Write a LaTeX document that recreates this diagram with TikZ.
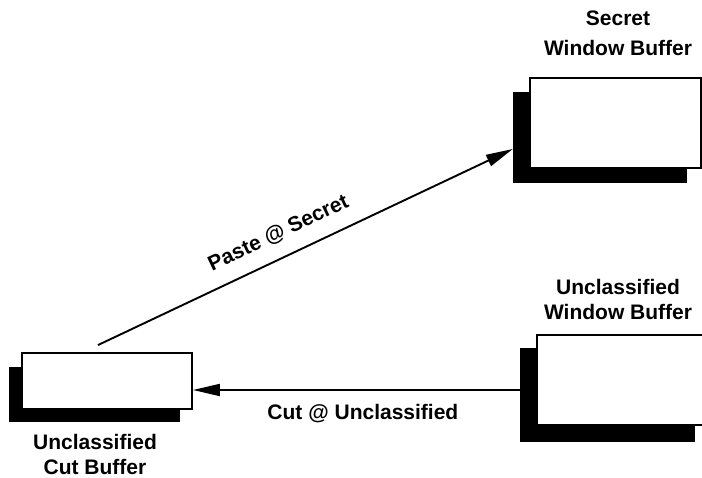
\documentclass[tikz,border=0pt]{standalone}
\usepackage{fontspec}
\setmainfont{Liberation Sans}
\usepackage{tikz}
\usetikzlibrary{calc,positioning,arrows.meta}

\begin{document}
\begin{tikzpicture}[x=1pt,y=-1pt,
  bufbox/.style={draw, line width=1.9pt, fill=white, inner sep=0pt},
  shadowbox/.style={fill=black, inner sep=0pt},
  bufname/.style={font=\bfseries\fontsize{21}{25}\selectfont, align=center, inner sep=0pt},
  flow/.style={line width=1.9pt, -{Triangle[length=27pt,width=12pt]}}]
  \useasboundingbox (0,0) rectangle (702,478);

  % Window and cut buffers (shadow first, then the box on top)
  \node[shadowbox, minimum width=174pt, minimum height=91pt] (secshadow) at (600,137.5) {};
  \node[bufbox, minimum width=171pt, minimum height=90pt] (secbox) at (615.5,123) {};

  \node[shadowbox, minimum width=175pt, minimum height=94pt] (unshadow) at (607.5,395) {};
  \node[bufbox, minimum width=173pt, minimum height=90pt] (unbox) at (623.5,380) {};

  \node[shadowbox, minimum width=171pt, minimum height=55pt] (cutshadow) at (94.5,394.5) {};
  \node[bufbox, minimum width=170pt, minimum height=56pt] (cutbox) at (107,381) {};

  % Buffer names
  \node[bufname, anchor=north, font=\bfseries\fontsize{21}{30}\selectfont] (seclabel) at (618,11) {Secret\\Window Buffer};
  \node[bufname, anchor=north] (unlabel) at (618,279.5) {Unclassified\\Window Buffer};
  \node[bufname, anchor=north] (cutlabel) at (95,434.5) {Unclassified\\Cut Buffer};

  % Paste and cut
  \draw[flow] ([xshift=-9pt,yshift=7pt]cutbox.north) -- ([yshift=-11.5pt]secshadow.west)
    node[bufname, pos=0.46, sloped, above=18pt, anchor=base] (pastelabel) {Paste @ Secret};
  \draw[flow] ([yshift=5pt]unshadow.west) -- ([yshift=5pt]unshadow.west -| cutbox.east)
    node[bufname, pos=0.48, anchor=base, yshift=-30pt] (cutlbl) {Cut @ Unclassified};
\end{tikzpicture}
\end{document}
